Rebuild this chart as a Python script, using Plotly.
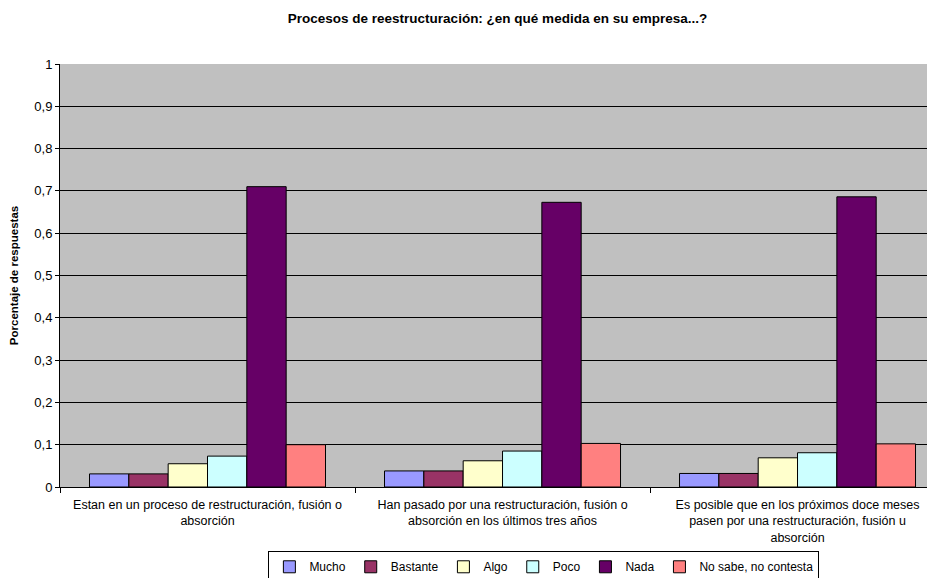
import plotly.graph_objects as go

categories = [
    "Estan en un proceso de restructuración, fusión o<br>absorción",
    "Han pasado por una restructuración, fusión o<br>absorción en los últimos tres años",
    "Es posible que en los próximos doce meses<br>pasen por una restructuración, fusión u<br>absorción",
]
series_names = ["Mucho", "Bastante", "Algo", "Poco", "Nada", "No sabe, no contesta"]
mucho = [0.031, 0.038, 0.032]
bastante = [0.031, 0.038, 0.032]
algo = [0.055, 0.062, 0.069]
poco = [0.073, 0.085, 0.081]
nada = [0.710, 0.673, 0.686]
nsnc = [0.100, 0.103, 0.102]
colors = ["#9999FF", "#993366", "#FFFFCC", "#CCFFFF", "#660066", "#FF8080"]

values = [mucho, bastante, algo, poco, nada, nsnc]

fig = go.Figure()
for name, vals, col in zip(series_names, values, colors):
    fig.add_trace(go.Bar(
        name=name, x=categories, y=vals,
        marker=dict(color=col, line=dict(color="black", width=1)),
    ))

font_family = "Liberation Sans, Arial, sans-serif"
fig.update_layout(
    width=927, height=570,
    barmode="group", bargap=0.2, bargroupgap=0,
    separators=", ",
    paper_bgcolor="white", plot_bgcolor="#C0C0C0",
    font=dict(family=font_family, size=12, color="black"),
    margin=dict(l=52, r=0, t=56, b=91, autoexpand=False),
    title=dict(text="<b>Procesos de reestructuración: ¿en qué medida en su empresa...?</b>",
               x=0.5, xanchor="center", xref="paper", y=0.982, yanchor="middle",
               font=dict(size=13.5, family=font_family)),
    xaxis=dict(range=[-0.5, 2.466], showline=True, linecolor="black", linewidth=1,
               ticks="outside", tickson="boundaries", ticklen=5, tickcolor="black",
               tickfont=dict(size=12.5), showgrid=False, automargin=False,
               ticklabelstandoff=6),
    yaxis=dict(range=[0, 1], dtick=0.1, showline=True, linecolor="black", linewidth=1,
               ticks="outside", ticklen=4, tickcolor="black",
               gridcolor="black", gridwidth=1, zeroline=False,
               tickfont=dict(size=13), automargin=False,
               title=dict(text="<b>Porcentaje de respuestas</b>", font=dict(size=11.5))),
    legend=dict(orientation="h", x=0.553, xanchor="center", y=-0.152, yanchor="top",
                bordercolor="black", borderwidth=1, bgcolor="white",
                font=dict(size=12), itemwidth=30, tracegroupgap=0),
    showlegend=True,
)

fig.write_html("out.html")
